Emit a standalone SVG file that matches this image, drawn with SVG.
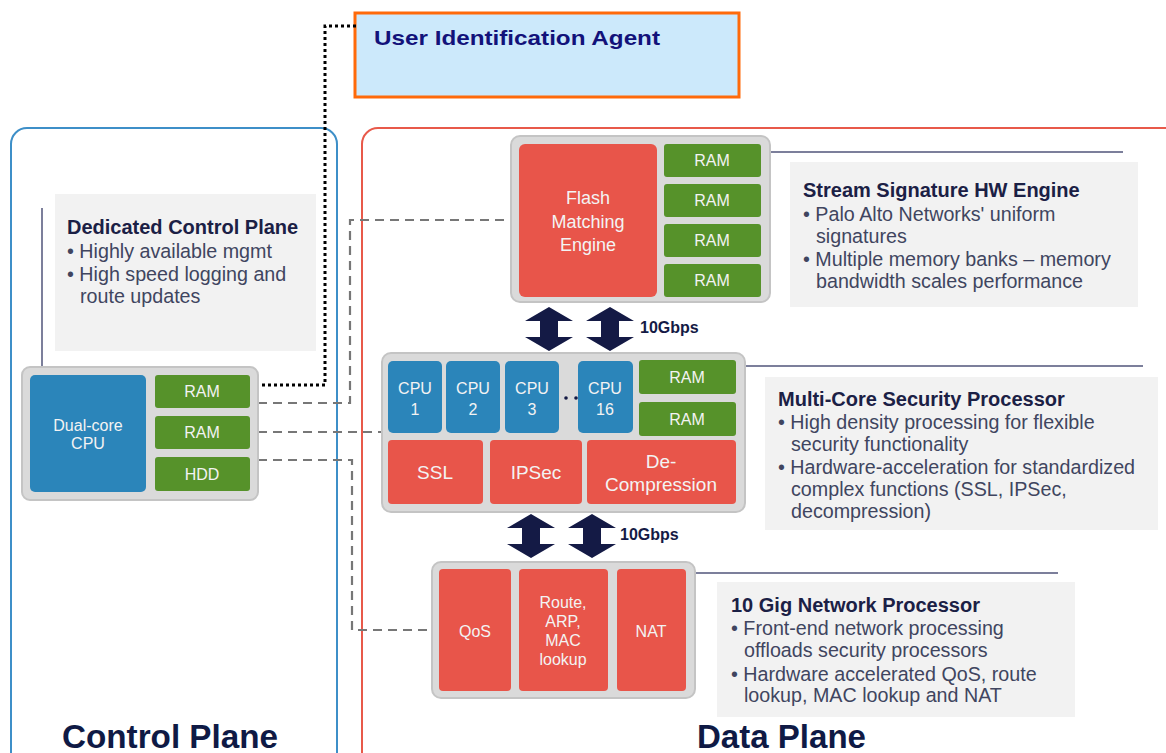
<svg xmlns="http://www.w3.org/2000/svg" width="1166" height="753" viewBox="0 0 1166 753">
<style>
.cluster{fill:#DADADA;stroke:#C4C4C4;stroke-width:2}
.red{fill:#E8554A}
.green{fill:#56922A}
.blue{fill:#2B85BA}
.lbl{font-family:"Liberation Sans",Arial,sans-serif;font-size:16px;fill:#F3F3F3;text-anchor:middle}
.big{font-size:18px}
.big2{font-size:19px}
.note{fill:#F2F2F2}
.ttl{font-family:"Liberation Sans",Arial,sans-serif;font-size:20px;font-weight:bold;fill:#1B2045}
.body{font-family:"Liberation Sans",Arial,sans-serif;font-size:19.7px;fill:#40455F}
.lead{stroke:#50557A;stroke-width:1.5;fill:none}
.dash{stroke:#777777;stroke-width:2.2;stroke-dasharray:9 6;fill:none}
.arr{fill:#141A45}
.gbps{font-family:"Liberation Sans",Arial,sans-serif;font-size:16px;font-weight:bold;fill:#141A45}
.plane{font-family:"Liberation Sans",Arial,sans-serif;font-size:34px;font-weight:bold;fill:#0F1A45}
</style>
<defs>
<path id="dbl" d="M0,0 L24,14 L9,14 L9,30 L24,30 L0,44 L-24,30 L-9,30 L-9,14 L-24,14 Z"/>
</defs>
<rect width="1166" height="753" fill="#FFFFFF"/>

<g id="control-plane">
<rect x="11" y="128" width="326" height="640" rx="16" fill="none" stroke="#3D8FC8" stroke-width="2"/>
<text class="plane" x="62" y="748" textLength="216" lengthAdjust="spacingAndGlyphs">Control Plane</text>
</g>
<g id="data-plane">
<rect x="362" y="128" width="830" height="640" rx="16" fill="none" stroke="#E8594A" stroke-width="2"/>
<text class="plane" x="697" y="748" textLength="169" lengthAdjust="spacingAndGlyphs">Data Plane</text>
</g>

<g id="user-id-agent">
<rect x="355" y="13" width="384" height="84" fill="#CCE9FB" stroke="#FF6A0A" stroke-width="3"/>
<text x="374" y="45" font-family="Liberation Sans, Arial, sans-serif" font-size="21" font-weight="bold" fill="#12127A" textLength="286" lengthAdjust="spacingAndGlyphs">User Identification Agent</text>
</g>

<g id="connectors">
<path d="M356,26 H325 V385 H258" fill="none" stroke="#000" stroke-width="3" stroke-dasharray="3 3"/>
<path class="dash" d="M258,403 H350 V220 H515"/>
<path class="dash" d="M258,432 H385"/>
<path class="dash" d="M258,460 H352 V630 H434"/>
<path class="lead" d="M42,208 V367"/>
<path class="lead" d="M770,152 H1123"/>
<path class="lead" d="M745,366 H1143"/>
<path class="lead" d="M695,573 H1058"/>
<use href="#dbl" class="arr" x="549" y="307"/>
<use href="#dbl" class="arr" x="610" y="307"/>
<text class="gbps" x="640" y="333">10Gbps</text>
<use href="#dbl" class="arr" x="531" y="514"/>
<use href="#dbl" class="arr" x="592" y="514"/>
<text class="gbps" x="620" y="540">10Gbps</text>
</g>

<g id="control-note">
<rect class="note" x="55" y="194" width="261" height="157"/>
<text class="ttl" x="67" y="234">Dedicated Control Plane</text>
<text class="body" x="67" y="258">• Highly available mgmt</text>
<text class="body" x="67" y="281">• High speed logging and</text>
<text class="body" x="80" y="303">route updates</text>
</g>

<g id="control-cpu">
<rect class="cluster" x="22" y="367" width="236" height="133" rx="8"/>
<rect class="blue" x="30" y="375" width="116" height="117" rx="5"/>
<text class="lbl" x="88" y="431">Dual-core</text>
<text class="lbl" x="88" y="449">CPU</text>
<rect class="green" x="155" y="375" width="95" height="33" rx="3"/>
<text class="lbl" x="202" y="397">RAM</text>
<rect class="green" x="155" y="416" width="95" height="33" rx="3"/>
<text class="lbl" x="202" y="438">RAM</text>
<rect class="green" x="155" y="457" width="95" height="34" rx="3"/>
<text class="lbl" x="202" y="480">HDD</text>
</g>

<g id="flash-engine">
<rect class="cluster" x="511" y="136" width="259" height="166" rx="9"/>
<rect class="red" x="519" y="144" width="138" height="153" rx="6"/>
<text class="lbl big" x="588" y="204">Flash</text>
<text class="lbl big" x="588" y="228">Matching</text>
<text class="lbl big" x="588" y="251">Engine</text>
<rect class="green" x="664" y="144" width="97" height="33" rx="3"/>
<text class="lbl" x="712" y="166">RAM</text>
<rect class="green" x="664" y="184" width="97" height="33" rx="3"/>
<text class="lbl" x="712" y="206">RAM</text>
<rect class="green" x="664" y="224" width="97" height="33" rx="3"/>
<text class="lbl" x="712" y="246">RAM</text>
<rect class="green" x="664" y="264" width="97" height="33" rx="3"/>
<text class="lbl" x="712" y="286">RAM</text>
</g>

<g id="flash-note">
<rect class="note" x="790" y="162" width="348" height="145"/>
<text class="ttl" x="803" y="197">Stream Signature HW Engine</text>
<text class="body" x="803" y="221">• Palo Alto Networks' uniform</text>
<text class="body" x="816" y="243">signatures</text>
<text class="body" x="803" y="266">• Multiple memory banks – memory</text>
<text class="body" x="816" y="288">bandwidth scales performance</text>
</g>

<g id="security-processor">
<rect class="cluster" x="382" y="353" width="363" height="159" rx="9"/>
<rect class="blue" x="388" y="361" width="54" height="72" rx="5"/>
<text class="lbl" x="415" y="394">CPU</text><text class="lbl" x="415" y="415">1</text>
<rect class="blue" x="446" y="361" width="54" height="72" rx="5"/>
<text class="lbl" x="473" y="394">CPU</text><text class="lbl" x="473" y="415">2</text>
<rect class="blue" x="505" y="361" width="54" height="72" rx="5"/>
<text class="lbl" x="532" y="394">CPU</text><text class="lbl" x="532" y="415">3</text>
<circle cx="566" cy="398" r="1.8" fill="#141A45"/>
<circle cx="576" cy="398" r="1.8" fill="#141A45"/>
<rect class="blue" x="578" y="361" width="55" height="72" rx="5"/>
<text class="lbl" x="605" y="394">CPU</text><text class="lbl" x="605" y="415">16</text>
<rect class="green" x="639" y="360" width="97" height="34" rx="3"/>
<text class="lbl" x="687" y="383">RAM</text>
<rect class="green" x="639" y="402" width="97" height="34" rx="3"/>
<text class="lbl" x="687" y="425">RAM</text>
<rect class="red" x="388" y="440" width="95" height="64" rx="4"/>
<text class="lbl big2" x="435" y="479">SSL</text>
<rect class="red" x="490" y="440" width="92" height="64" rx="4"/>
<text class="lbl big2" x="536" y="479">IPSec</text>
<rect class="red" x="587" y="440" width="149" height="64" rx="4"/>
<text class="lbl big2" x="661" y="468">De-</text>
<text class="lbl big2" x="661" y="491">Compression</text>
</g>

<g id="security-note">
<rect class="note" x="765" y="377" width="393" height="153"/>
<text class="ttl" x="778" y="406">Multi-Core Security Processor</text>
<text class="body" x="778" y="429">• High density processing for flexible</text>
<text class="body" x="791" y="451">security functionality</text>
<text class="body" x="778" y="474">• Hardware-acceleration for standardized</text>
<text class="body" x="791" y="496">complex functions (SSL, IPSec,</text>
<text class="body" x="791" y="518">decompression)</text>
</g>

<g id="network-processor">
<rect class="cluster" x="432" y="562" width="263" height="136" rx="9"/>
<rect class="red" x="439" y="569" width="72" height="122" rx="4"/>
<text class="lbl" x="475" y="637">QoS</text>
<rect class="red" x="519" y="569" width="89" height="122" rx="4"/>
<text class="lbl" x="563" y="608">Route,</text>
<text class="lbl" x="563" y="627">ARP,</text>
<text class="lbl" x="563" y="646">MAC</text>
<text class="lbl" x="563" y="665">lookup</text>
<rect class="red" x="617" y="569" width="69" height="122" rx="4"/>
<text class="lbl" x="651" y="637">NAT</text>
</g>

<g id="network-note">
<rect class="note" x="717" y="582" width="358" height="135"/>
<text class="ttl" x="731" y="612">10 Gig Network Processor</text>
<text class="body" x="731" y="635">• Front-end network processing</text>
<text class="body" x="744" y="657">offloads security processors</text>
<text class="body" x="731" y="681">• Hardware accelerated QoS, route</text>
<text class="body" x="744" y="702">lookup, MAC lookup and NAT</text>
</g>
</svg>
